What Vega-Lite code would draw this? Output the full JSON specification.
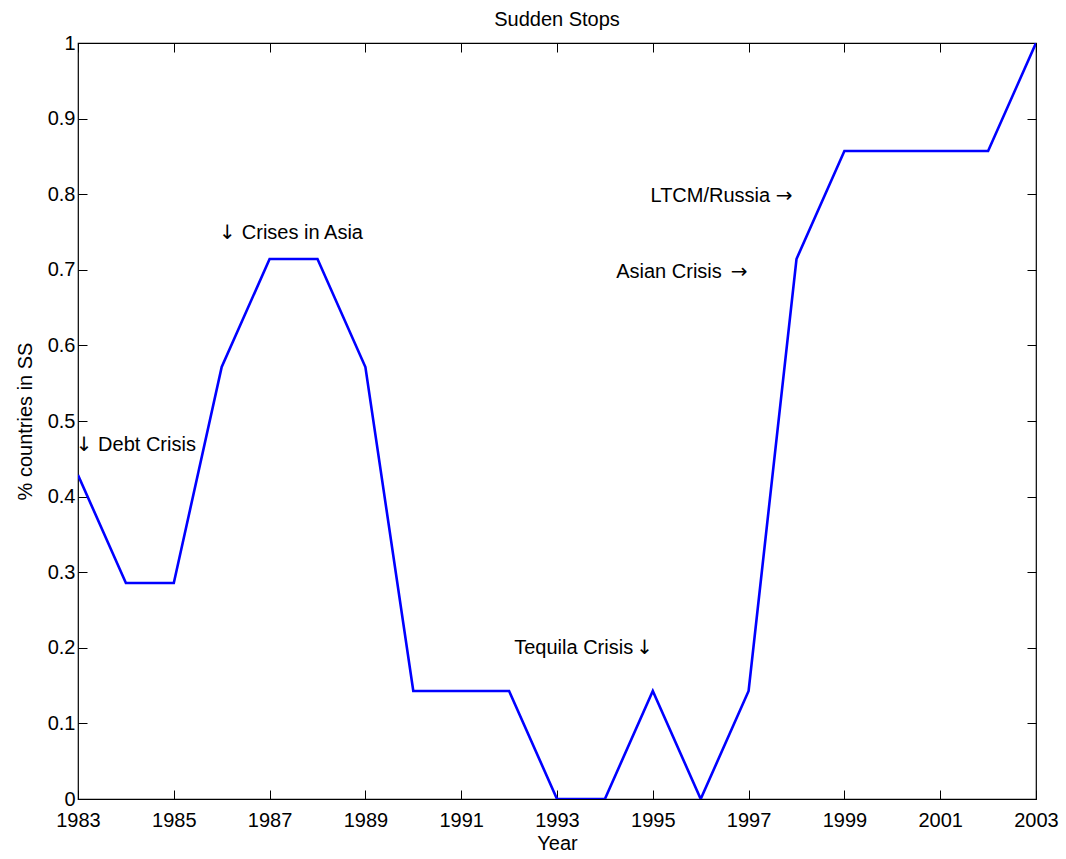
{
  "$schema": "https://vega.github.io/schema/vega-lite/v6.json",
  "width": 958,
  "height": 756,
  "autosize": {"type": "none"},
  "padding": {"left": 78, "top": 43, "right": 30, "bottom": 60},
  "background": "white",
  "title": {"text": "Sudden Stops", "fontSize": 20, "fontWeight": "normal", "font": "Liberation Sans", "color": "black", "offset": 3},
  "config": {
    "font": "Liberation Sans",
    "view": {"stroke": "black", "strokeWidth": 1.2},
    "axis": {
      "grid": false,
      "domain": false,
      "tickSize": -9,
      "tickColor": "black",
      "tickWidth": 1,
      "labelFontSize": 20,
      "labelColor": "black",
      "titleFontSize": 20,
      "titleFontWeight": "normal",
      "titleColor": "black",
      "labelFont": "Liberation Sans",
      "titleFont": "Liberation Sans"
    }
  },
  "datasets": {
    "ss": [
      {"year": 1983, "share": 0.4286},
      {"year": 1984, "share": 0.2857},
      {"year": 1985, "share": 0.2857},
      {"year": 1986, "share": 0.5714},
      {"year": 1987, "share": 0.7143},
      {"year": 1988, "share": 0.7143},
      {"year": 1989, "share": 0.5714},
      {"year": 1990, "share": 0.1429},
      {"year": 1991, "share": 0.1429},
      {"year": 1992, "share": 0.1429},
      {"year": 1993, "share": 0},
      {"year": 1994, "share": 0},
      {"year": 1995, "share": 0.1429},
      {"year": 1996, "share": 0},
      {"year": 1997, "share": 0.1429},
      {"year": 1998, "share": 0.7143},
      {"year": 1999, "share": 0.8571},
      {"year": 2000, "share": 0.8571},
      {"year": 2001, "share": 0.8571},
      {"year": 2002, "share": 0.8571},
      {"year": 2003, "share": 1}
    ],
    "notesLeft": [
      {"year": 1983.42, "share": 0.468, "label": "Debt Crisis"},
      {"year": 1986.42, "share": 0.749, "label": "Crises in Asia"}
    ],
    "notesRight": [
      {"year": 1994.59, "share": 0.2, "label": "Tequila Crisis"},
      {"year": 1996.44, "share": 0.697, "label": "Asian Crisis"},
      {"year": 1997.45, "share": 0.798, "label": "LTCM/Russia"}
    ],
    "arrows": [
      {"year": 1983.13, "share": 0.468, "label": "↓"},
      {"year": 1986.12, "share": 0.749, "label": "↓"},
      {"year": 1994.83, "share": 0.2, "label": "↓"},
      {"year": 1996.8, "share": 0.697, "label": "→"},
      {"year": 1997.74, "share": 0.798, "label": "→"}
    ]
  },
  "layer": [
    {
      "data": {"name": "ss"},
      "mark": {"type": "line", "color": "#0000ff", "strokeWidth": 2.6, "clip": true},
      "encoding": {
        "x": {
          "field": "year", "type": "quantitative",
          "scale": {"domain": [1983, 2003], "nice": false, "zero": false},
          "axis": {"orient": "bottom", "title": "Year", "values": [1983,1985,1987,1989,1991,1993,1995,1997,1999,2001,2003], "format": "d", "labelPadding": 20, "titlePadding": 3, "labelFlush": false, "labelOverlap": false}
        },
        "y": {
          "field": "share", "type": "quantitative",
          "scale": {"domain": [0, 1], "nice": false},
          "axis": {"orient": "left", "title": "% countries in SS", "values": [0,0.1,0.2,0.3,0.4,0.5,0.6,0.7,0.8,0.9,1], "format": ".1~f", "labelPadding": 12, "titlePadding": 12, "labelFlush": false, "labelOverlap": false}
        }
      }
    },
    {
      "data": {"name": "ss"},
      "mark": {"type": "point", "opacity": 0},
      "encoding": {
        "x": {
          "field": "year", "type": "quantitative",
          "scale": {"domain": [1983, 2003], "nice": false, "zero": false},
          "axis": {"orient": "top", "title": null, "labels": false, "values": [1983,1985,1987,1989,1991,1993,1995,1997,1999,2001,2003]}
        },
        "y": {
          "field": "share", "type": "quantitative",
          "scale": {"domain": [0, 1], "nice": false},
          "axis": {"orient": "right", "title": null, "labels": false, "values": [0,0.1,0.2,0.3,0.4,0.5,0.6,0.7,0.8,0.9,1]}
        }
      }
    },
    {
      "data": {"name": "notesLeft"},
      "mark": {"type": "text", "align": "left", "baseline": "middle", "fontSize": 20, "font": "Liberation Sans", "color": "black"},
      "encoding": {
        "x": {"field": "year", "type": "quantitative", "axis": null},
        "y": {"field": "share", "type": "quantitative", "axis": null},
        "text": {"field": "label"}
      }
    },
    {
      "data": {"name": "notesRight"},
      "mark": {"type": "text", "align": "right", "baseline": "middle", "fontSize": 20, "font": "Liberation Sans", "color": "black"},
      "encoding": {
        "x": {"field": "year", "type": "quantitative", "axis": null},
        "y": {"field": "share", "type": "quantitative", "axis": null},
        "text": {"field": "label"}
      }
    },
    {
      "data": {"name": "arrows"},
      "mark": {"type": "text", "align": "center", "baseline": "middle", "fontSize": 20, "font": "DejaVu Sans", "color": "black"},
      "encoding": {
        "x": {"field": "year", "type": "quantitative", "axis": null},
        "y": {"field": "share", "type": "quantitative", "axis": null},
        "text": {"field": "label"}
      }
    }
  ],
  "resolve": {"axis": {"x": "independent", "y": "independent"}}
}
